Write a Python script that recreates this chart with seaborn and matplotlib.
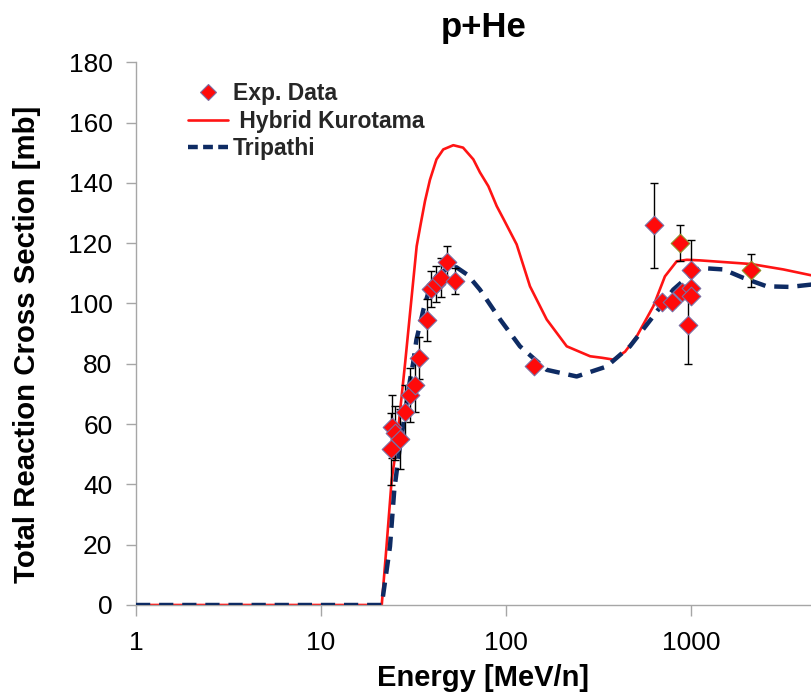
import matplotlib
matplotlib.use("Agg")
import matplotlib.pyplot as plt
from matplotlib.ticker import FixedLocator, FixedFormatter, NullLocator
from matplotlib.lines import Line2D
import numpy as np
import pandas as pd
import seaborn as sns

# Measured total reaction cross sections (MeV/n, mb, +/- mb)
exp_energy = [23.8, 24.1, 25.0, 26.9, 28.3, 30.2, 32.2, 34.0, 37.2, 39.1, 41.8, 44.6,
              48.1, 52.9, 141.7, 633, 700, 789, 891, 967, 996, 1000, 1000]
exp_sigma = [51.7, 59.2, 57.0, 55.0, 64.0, 69.7, 73.0, 82.0, 94.6, 104.9, 106.5, 108.6,
             113.7, 107.4, 79.4, 125.9, 100.4, 100.4, 103.7, 93.0, 111.0, 105.2, 102.4]
exp_err = [12.0, 10.5, 9.0, 10.0, 9.0, 9.0, 9.0, 7.0, 7.0, 6.0, 6.0, 6.5,
           5.5, 4.3, 1.5, 14.0, 1.5, 1.5, 1.5, 13.0, 10.0, 0.0, 0.0]

# Second measurement set (drawn with an olive edge)
exp2_energy = [872, 2110]
exp2_sigma = [120.1, 111.0]
exp2_err = [6.0, 5.5]

# Hybrid Kurotama model curve
kurotama_energy = [1, 21.3, 22.6, 24.1, 25.6, 26.7, 28.5, 30.3, 32.9, 34.5, 36.5, 38.8,
                   42.1, 45.8, 51.9, 58.6, 66.6, 72.3, 80.3, 89.1, 97.2, 114.2, 134.8,
                   166, 213, 285, 330, 380, 440, 509, 626, 723, 837, 950, 1119, 2110,
                   3155, 4510]
kurotama_sigma = [0, 0, 19.4, 41.5, 52.6, 63.7, 80.3, 96.9, 119.0, 126.0, 134.0, 141.0,
                  147.8, 151.1, 152.5, 151.7, 147.8, 143.5, 138.9, 132.3, 127.9, 119.6, 105.7,
                  94.7, 85.8, 82.5, 82.0, 81.4, 84.0, 89.1, 99.1, 109.0, 114.0, 114.5,
                  114.3, 113.1, 111.3, 109.3]

# Tripathi model curve
tripathi_energy = [1, 21.3, 23.6, 24.9, 26.7, 28.5, 30.3, 31.5, 32.8, 34.3, 35.8, 38.0,
                   42.0, 48.0, 54.0, 62.0, 72.3, 93, 119, 166, 241, 350, 468, 626,
                   802, 948, 1119, 1496, 1918, 2566, 3428, 4510]
tripathi_sigma = [0, 0, 19.4, 38.2, 52.6, 63.7, 74.7, 80.3, 88.0, 93.0, 98.0, 103.5,
                  109.0, 111.5, 112.0, 109.5, 104.6, 94.7, 85.8, 78.0, 75.8, 79.1, 85.8, 95.8,
                  104.6, 108.5, 111.8, 111.3, 108.5, 105.7, 105.5, 106.3]

x_ticks = [1, 10, 100, 1000]
x_tick_labels = ["1", "10", "100", "1000"]
y_ticks = [0, 20, 40, 60, 80, 100, 120, 140, 160, 180]

sns.set_theme(style="white")
plt.rcParams["font.family"] = ["Liberation Sans", "DejaVu Sans"]

RED = "#ff1414"
NAVY = "#0e2b63"
AXIS_GREY = "#a6a6a6"

fig = plt.figure(figsize=(8.12, 6.98), dpi=100)
ax = fig.add_axes([136 / 812, 93 / 698, 676 / 812, 542.7 / 698])

kuro_df = pd.DataFrame({"energy": kurotama_energy, "sigma": kurotama_sigma})
trip_df = pd.DataFrame({"energy": tripathi_energy, "sigma": tripathi_sigma})

sns.lineplot(data=kuro_df, x="energy", y="sigma", ax=ax, color=RED, lw=1.9,
             sort=False, estimator=None, zorder=2, legend=False)
sns.lineplot(data=trip_df, x="energy", y="sigma", ax=ax, color=NAVY, lw=3.2,
             sort=False, estimator=None, zorder=3, legend=False,
             dashes=False)
ax.lines[-1].set_dashes([3.2, 2.0])

# error bars first, then diamonds on top
ax.errorbar(exp_energy, exp_sigma, yerr=exp_err, fmt="none", ecolor="black",
            elinewidth=1.0, capsize=3, capthick=1.0, zorder=4)
ax.errorbar(exp2_energy, exp2_sigma, yerr=exp2_err, fmt="none", ecolor="black",
            elinewidth=1.0, capsize=3, capthick=1.0, zorder=4)
sns.scatterplot(x=exp_energy, y=exp_sigma, ax=ax, marker="D", s=90, color="#ff0a0a",
                edgecolor="#7b6fa3", linewidth=0.8, zorder=5, legend=False)
sns.scatterplot(x=exp2_energy, y=exp2_sigma, ax=ax, marker="D", s=90, color="#ff0a0a",
                edgecolor="#8f8f2a", linewidth=0.8, zorder=5, legend=False)

ax.set_xscale("log")
ax.set_xlim(1, 4510)
ax.set_ylim(0, 180)

ax.xaxis.set_major_locator(FixedLocator(x_ticks))
ax.xaxis.set_major_formatter(FixedFormatter(x_tick_labels))
ax.xaxis.set_minor_locator(NullLocator())
ax.set_yticks(y_ticks)
ax.set_yticklabels([str(v) for v in y_ticks])

for side in ("top", "right"):
    ax.spines[side].set_visible(False)
for side in ("left", "bottom"):
    ax.spines[side].set_color(AXIS_GREY)
    ax.spines[side].set_linewidth(1.0)

ax.tick_params(axis="both", which="major", direction="out", length=7, width=1.0,
               color=AXIS_GREY, labelsize=19, labelcolor="black", pad=10,
               bottom=True, left=True)
ax.tick_params(axis="x", length=8, pad=11)

ax.set_xlabel("Energy [MeV/n]", fontsize=21, fontweight="bold", color="black")
ax.set_ylabel("Total Reaction Cross Section [mb]", fontsize=21.2, fontweight="bold",
              color="black")
ax.xaxis.set_label_coords((483 - 136) / 676, (605 - 678) / 542.7)
ax.xaxis.label.set_va("center")
ax.yaxis.set_label_coords((27 - 136) / 676, (605 - 344) / 542.7)
ax.yaxis.label.set_va("center")

fig.text(484 / 812, 1 - 28 / 698, "p+He", ha="center", va="center",
         fontsize=25, fontweight="bold", color="black")

handles = [
    Line2D([], [], ls="none", marker="D", ms=8.5, color="#ff0a0a",
           markeredgecolor="#7b6fa3", markeredgewidth=0.8),
    Line2D([], [], color=RED, lw=1.9),
    Line2D([], [], color=NAVY, lw=3.2, ls=(0, (2.2, 1.2))),
]
labels = ["Exp. Data", " Hybrid Kurotama", "Tripathi"]
leg = ax.legend(handles, labels, loc="upper left",
                bbox_to_anchor=((188 - 136) / 676, (605 - 82) / 542.7),
                frameon=False, handlelength=1.75, handletextpad=0.2,
                labelspacing=0.2, borderaxespad=0, borderpad=0,
                prop={"size": 16.5, "weight": "bold"})

fig.savefig("out.png", dpi=100)
